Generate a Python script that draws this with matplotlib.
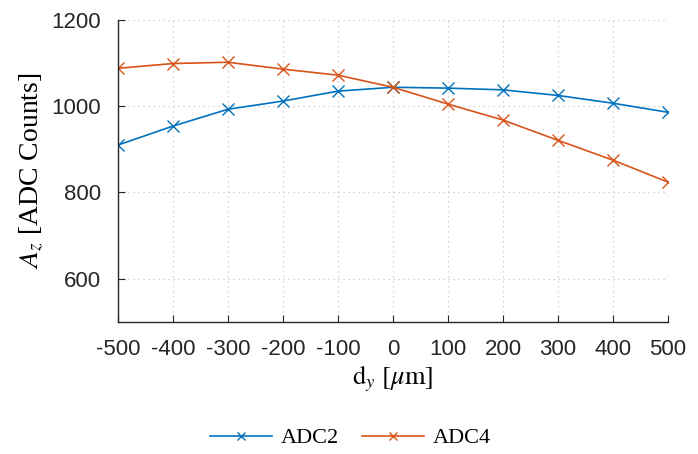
import matplotlib
matplotlib.use("Agg")
import matplotlib.pyplot as plt

dy = [-500, -400, -300, -200, -100, 0, 100, 200, 300, 400, 500]
adc2 = [910, 954, 993, 1012, 1035, 1044, 1042, 1038, 1025, 1007, 986]
adc4 = [1088, 1099, 1102, 1086, 1072, 1044, 1005, 968, 921, 875, 824]

plt.rcParams['mathtext.fontset'] = 'stix'

fig = plt.figure(figsize=(6.98, 4.54), dpi=100)
ax = fig.add_axes([0.169, 0.291, 0.788, 0.665])

ax.plot(dy, adc2, color='#0072BD', marker='x', markersize=8, lw=1.2, label='ADC2')
ax.plot(dy, adc4, color='#D95319', marker='x', markersize=8, lw=1.2, label='ADC4')

ax.set_xlim(-500, 500)
ax.set_ylim(500, 1200)
ax.set_xticks(dy)
ax.set_xticklabels([str(v) for v in dy])
ax.set_yticks([600, 800, 1000, 1200])

ax.grid(True, linestyle=(0, (1, 3)), color='#c8c8c8', lw=0.9)
for s in ['top', 'right']:
    ax.spines[s].set_visible(False)
for s in ['left', 'bottom']:
    ax.spines[s].set_color('#262626')
    ax.spines[s].set_linewidth(1.0)
ax.tick_params(direction='in', length=5, colors='#262626', labelsize=16)
ax.tick_params(axis='x', pad=12)
ax.tick_params(axis='y', pad=12)
for lab in ax.get_xticklabels() + ax.get_yticklabels():
    lab.set_family('Liberation Sans')

ax.set_xlabel(r'$\mathrm{d}_y$ $[\mu\mathrm{m}]$', fontsize=19, family='Liberation Serif', labelpad=3)
ax.set_ylabel(r'$A_z$ [ADC Counts]', fontsize=20, family='Liberation Serif', labelpad=5)

leg = fig.legend(loc='center', bbox_to_anchor=(0.502, 0.035), ncol=2, frameon=False,
                 prop={'family': 'Liberation Serif', 'size': 16}, handlelength=2.8,
                 handletextpad=0.4, columnspacing=1.0, markerscale=0.8)

fig.savefig('out.png', dpi=100)
